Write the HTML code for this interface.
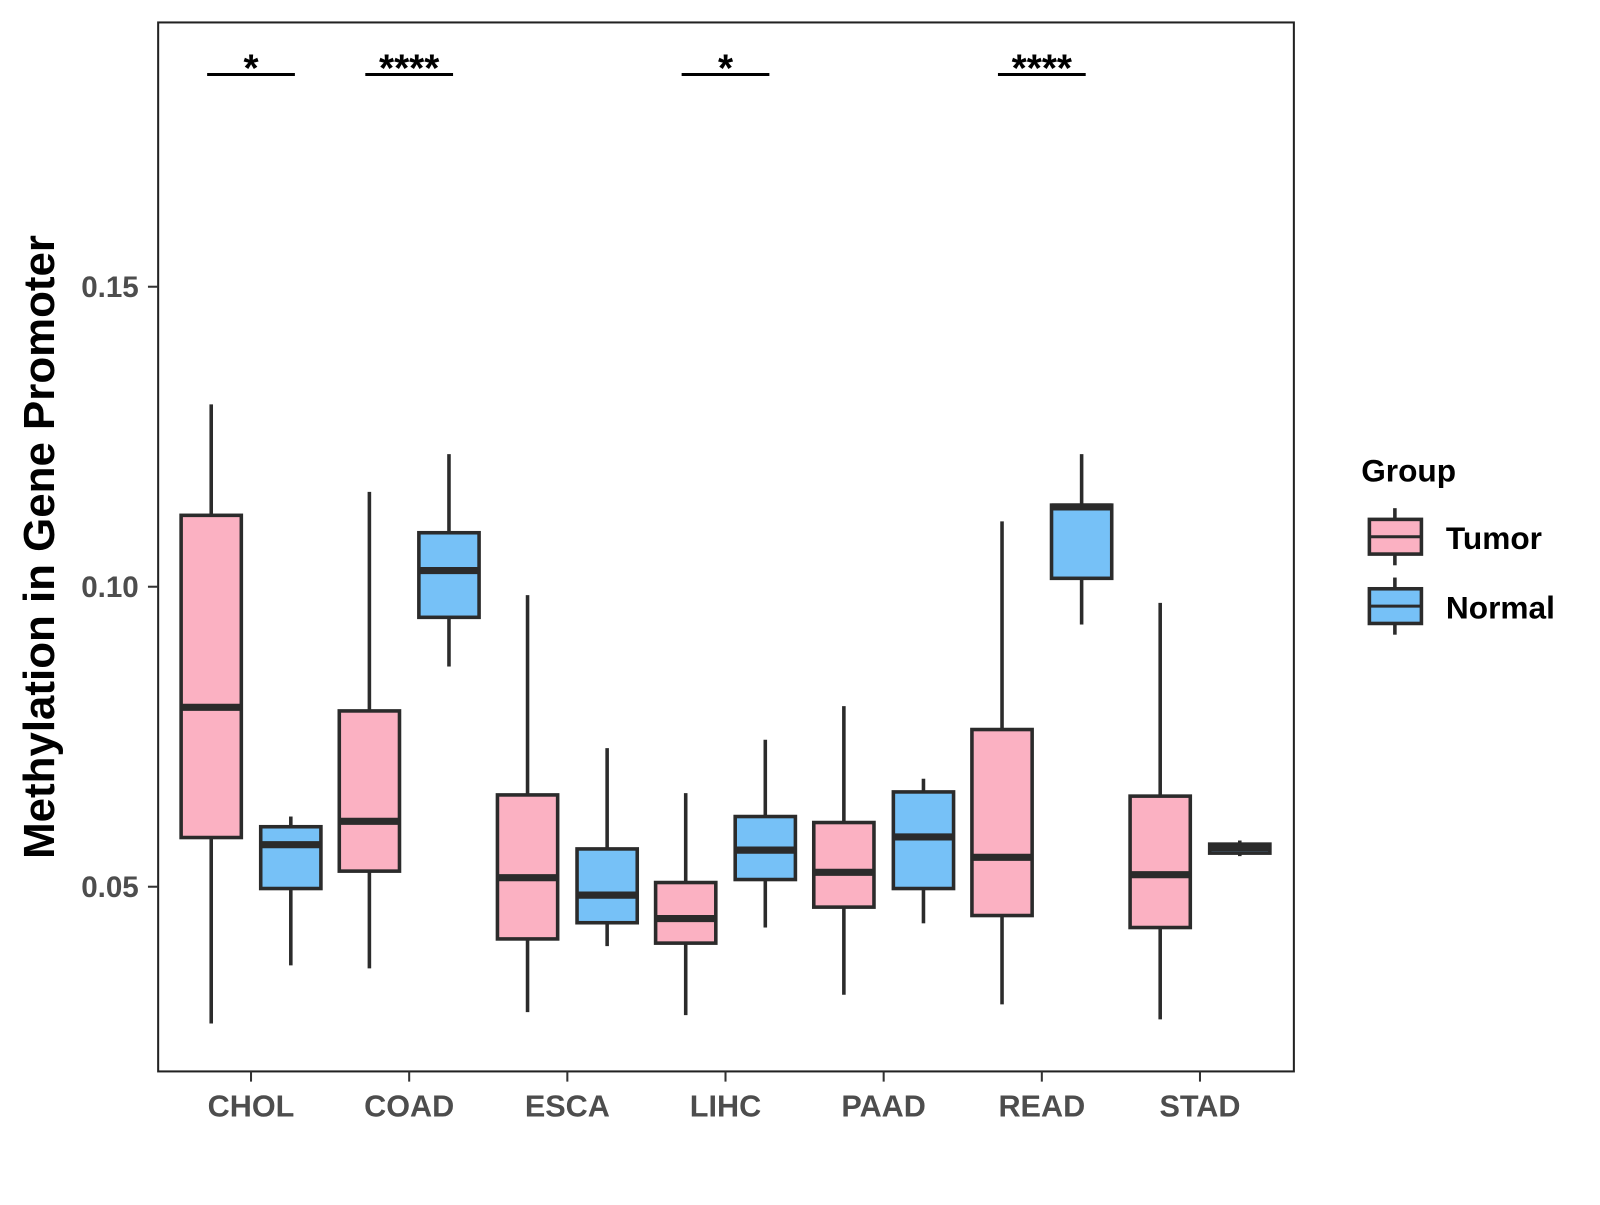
<!DOCTYPE html>
<html><head><meta charset="utf-8"><style>
body{margin:0;background:#fff}
svg text{font-family:"Liberation Sans",Arial,sans-serif;font-weight:bold}
</style></head><body>
<svg id="chart" width="1600" height="1200" xmlns="http://www.w3.org/2000/svg">
<rect x="0" y="0" width="1600" height="1200" fill="#fff"/>
<g transform="scale(1.0204)">
<rect x="155" y="22" width="1113" height="1028" fill="#fff" stroke="#222" stroke-width="2"/>
<g id="marks"></g>
<g id="axes"></g>
<text transform="translate(53,536) rotate(-90)" text-anchor="middle" font-size="43" fill="#000">Methylation in Gene Promoter</text>
<g>
<text x="1334" y="472" font-size="31" fill="#000">Group</text>
<line x1="1367" y1="498" x2="1367" y2="554" stroke="#2b2b2b" stroke-width="3.5"/>
<rect x="1342" y="509" width="51" height="34" fill="#FBB1C2" stroke="#2b2b2b" stroke-width="3.5"/>
<line x1="1342" y1="526" x2="1393" y2="526" stroke="#2b2b2b" stroke-width="3"/>
<text x="1417" y="538" font-size="31" fill="#000">Tumor</text>
<line x1="1367" y1="566" x2="1367" y2="622" stroke="#2b2b2b" stroke-width="3.5"/>
<rect x="1342" y="577" width="51" height="34" fill="#76C1F7" stroke="#2b2b2b" stroke-width="3.5"/>
<line x1="1342" y1="594" x2="1393" y2="594" stroke="#2b2b2b" stroke-width="3"/>
<text x="1417" y="606" font-size="31" fill="#000">Normal</text>
</g>
</g>
</svg>
<script>
const categories=["CHOL","COAD","ESCA","LIHC","PAAD","READ","STAD"];
// [min, q1, median, q3, max]
const tumorStats=[[0.0272,0.0582,0.0799,0.1119,0.1304],[0.0364,0.0526,0.0609,0.0793,0.1158],[0.0291,0.0413,0.0515,0.0653,0.0986],[0.0286,0.0406,0.0447,0.0507,0.0656],[0.0320,0.0466,0.0524,0.0607,0.0801],[0.0304,0.0452,0.0549,0.0762,0.1109],[0.0279,0.0432,0.0520,0.0651,0.0973]];
const normalStats=[[0.0369,0.0497,0.0570,0.0600,0.0617],[0.0867,0.0949,0.1027,0.1090,0.1221],[0.0401,0.0440,0.0486,0.0563,0.0731],[0.0432,0.0512,0.0561,0.0617,0.0745],[0.0439,0.0497,0.0583,0.0658,0.0680],[0.0937,0.1014,0.1133,0.1136,0.1221],[0.0551,0.0556,0.0565,0.0571,0.0577]];
const signifLabels=["*","****","","*","","****",""];
const yTicks=[0.05,0.10,0.15];
const yTickLabels=["0.05","0.10","0.15"];

const NS="http://www.w3.org/2000/svg";
const y=v=>281-(v-0.15)*5880;
const x=i=>246+i*155;
function mk(tag,attrs,parent){const e=document.createElementNS(NS,tag);for(const k in attrs)e.setAttribute(k,attrs[k]);parent.appendChild(e);return e;}
const marks=document.getElementById('marks'), axes=document.getElementById('axes');
function box(cx,s,fill,name){
  const g=mk('g',{},marks);
  
  
  mk('line',{x1:cx,x2:cx,y1:y(s[4]),y2:y(s[3]),stroke:'#2b2b2b','stroke-width':3.5},g);
  mk('line',{x1:cx,x2:cx,y1:y(s[1]),y2:y(s[0]),stroke:'#2b2b2b','stroke-width':3.5},g);
  mk('rect',{x:cx-29.5,y:y(s[3]),width:59,height:Math.max(y(s[1])-y(s[3]),1),fill:fill,stroke:'#2b2b2b','stroke-width':3.5},g);
  mk('line',{x1:cx-29.5,x2:cx+29.5,y1:y(s[2]),y2:y(s[2]),stroke:'#2b2b2b','stroke-width':7},g);
}
categories.forEach((c,i)=>{
  box(x(i)-39,tumorStats[i],'#FBB1C2','box-tumor-'+c.toLowerCase());
  box(x(i)+39,normalStats[i],'#76C1F7','box-normal-'+c.toLowerCase());
  mk('line',{x1:x(i),x2:x(i),y1:1050,y2:1060,stroke:'#333','stroke-width':2},axes);
  const t=mk('text',{x:x(i),y:1094,'text-anchor':'middle','font-size':30,fill:'#4d4d4d'},axes);
  
  
  t.textContent=c;
  if(signifLabels[i]){
    const g=mk('g',{},marks);
    
    
    mk('line',{x1:x(i)-43,x2:x(i)+43,y1:73,y2:73,stroke:'#000','stroke-width':3},g);
    const s=mk('text',{x:x(i),y:80,'text-anchor':'middle','font-size':38,fill:'#000'},g);
    s.textContent=signifLabels[i];
  }
});
yTicks.forEach((v,i)=>{
  mk('line',{x1:145,x2:155,y1:y(v),y2:y(v),stroke:'#333','stroke-width':2},axes);
  const t=mk('text',{x:136,y:y(v)+10,'text-anchor':'end','font-size':29,fill:'#4d4d4d'},axes);
  
  
  t.textContent=yTickLabels[i];
});
</script>
</body></html>
